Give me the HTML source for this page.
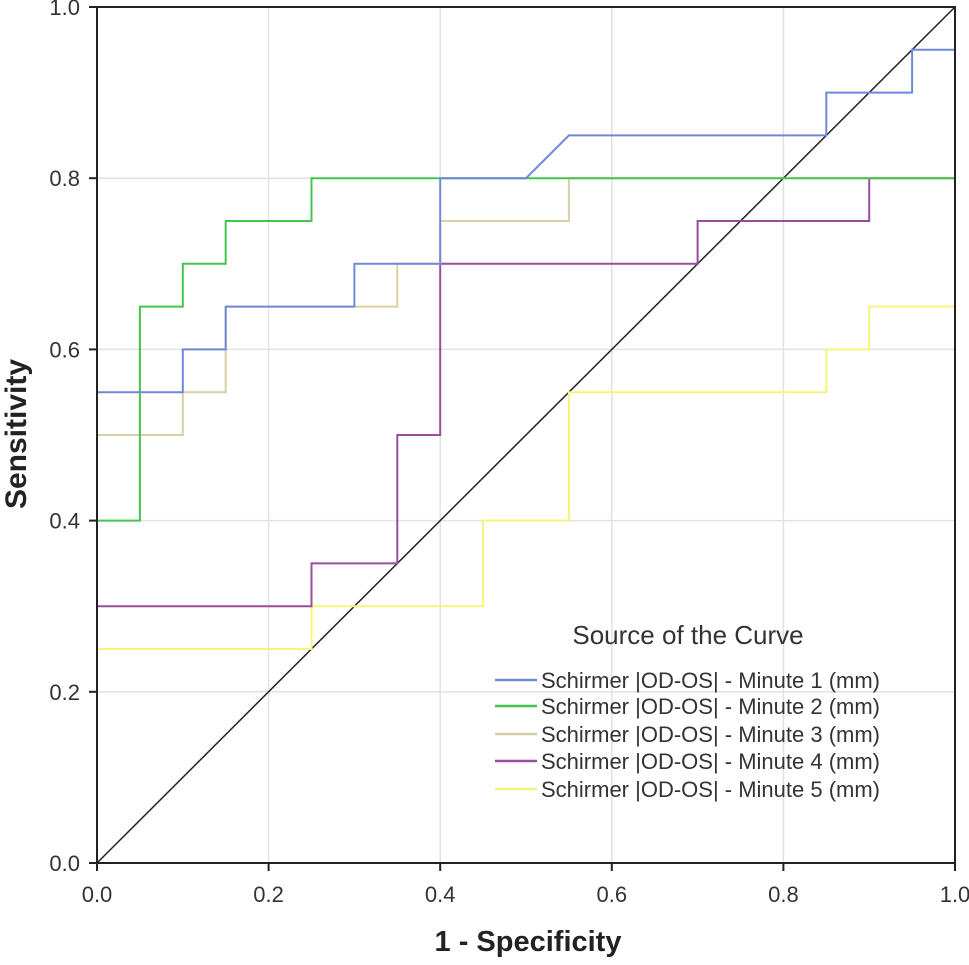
<!DOCTYPE html>
<html><head><meta charset="utf-8"><style>
html,body{margin:0;padding:0;background:#fff;}
svg text{font-family:"Liberation Sans",Arial,sans-serif;}
</style></head><body>
<svg id="chart" width="969" height="960" viewBox="0 0 969 960" xmlns="http://www.w3.org/2000/svg">
<g id="grid"></g>
<g id="curves"></g>
<g id="axes"></g>
<g id="legend"></g>
</svg>
<script>
const xTicks=[0,0.2,0.4,0.6,0.8,1.0];
const yTicks=[0,0.2,0.4,0.6,0.8,1.0];
const seriesNames=["Schirmer |OD-OS| - Minute 1 (mm)","Schirmer |OD-OS| - Minute 2 (mm)","Schirmer |OD-OS| - Minute 3 (mm)","Schirmer |OD-OS| - Minute 4 (mm)","Schirmer |OD-OS| - Minute 5 (mm)"];
const seriesColors=["#7088d8","#44c44c","#d6d0a4","#9a4c9e","#f6f47a"];
const m1x=[0,0,0.1,0.1,0.15,0.15,0.3,0.3,0.4,0.4,0.5,0.55,0.85,0.85,0.95,0.95,1,1];
const m1y=[0,0.55,0.55,0.6,0.6,0.65,0.65,0.7,0.7,0.8,0.8,0.85,0.85,0.9,0.9,0.95,0.95,1];
const m2x=[0,0,0.05,0.05,0.1,0.1,0.15,0.15,0.25,0.25,1,1];
const m2y=[0,0.4,0.4,0.65,0.65,0.7,0.7,0.75,0.75,0.8,0.8,1];
const m3x=[0,0,0.1,0.1,0.15,0.15,0.35,0.35,0.4,0.4,0.55,0.55,1,1];
const m3y=[0,0.5,0.5,0.55,0.55,0.65,0.65,0.7,0.7,0.75,0.75,0.8,0.8,1];
const m4x=[0,0,0.25,0.25,0.35,0.35,0.4,0.4,0.7,0.7,0.9,0.9,1,1];
const m4y=[0,0.3,0.3,0.35,0.35,0.5,0.5,0.7,0.7,0.75,0.75,0.8,0.8,1];
const m5x=[0,0,0.25,0.25,0.45,0.45,0.55,0.55,0.85,0.85,0.9,0.9,1,1];
const m5y=[0,0.25,0.25,0.3,0.3,0.4,0.4,0.55,0.55,0.6,0.6,0.65,0.65,1];
const seriesX=[m1x,m2x,m3x,m4x,m5x];
const seriesY=[m1y,m2y,m3y,m4y,m5y];

const X0=97,X1=955,Y0=863,Y1=7;
const sx=v=>X0+(X1-X0)*v;
const sy=v=>Y0-(Y0-Y1)*v;
const NS="http://www.w3.org/2000/svg";
function mk(tag,attrs,parent){const e=document.createElementNS(NS,tag);for(const k in attrs)e.setAttribute(k,attrs[k]);parent.appendChild(e);return e;}
const grid=document.getElementById('grid'),curves=document.getElementById('curves'),axes=document.getElementById('axes'),legend=document.getElementById('legend');

xTicks.forEach(t=>{if(t>0&&t<1){const l=mk('line',{x1:sx(t),x2:sx(t),y1:Y1,y2:Y0,stroke:'#e2e2e2','stroke-width':1.5},grid);

}
const tx=mk('text',{x:sx(t),y:902,'text-anchor':'middle','font-size':22,fill:'#333'},axes);tx.textContent=t.toFixed(1);


const tk=mk('line',{x1:sx(t),x2:sx(t),y1:Y0,y2:Y0+8,stroke:'#222','stroke-width':2},axes);

});
yTicks.forEach(t=>{if(t>0&&t<1){const l=mk('line',{x1:X0,x2:X1,y1:sy(t),y2:sy(t),stroke:'#e2e2e2','stroke-width':1.5},grid);

}
const tx=mk('text',{x:80,y:sy(t)+8,'text-anchor':'end','font-size':22,fill:'#333'},axes);tx.textContent=t.toFixed(1);


const tk=mk('line',{x1:X0-8,x2:X0,y1:sy(t),y2:sy(t),stroke:'#222','stroke-width':2},axes);

});

const ref=mk('line',{x1:sx(0),y1:sy(0),x2:sx(1),y2:sy(1),stroke:'#222','stroke-width':1.5},curves);



for(let s=4;s>=0;s--){
 const pts=seriesX[s].map((x,i)=>sx(x)+','+sy(seriesY[s][i])).join(' ');
 const p=mk('polyline',{points:pts,fill:'none',stroke:seriesColors[s],'stroke-width':2},curves);
 
 
}

const frame=mk('rect',{x:X0,y:Y1,width:X1-X0,height:Y0-Y1,fill:'none',stroke:'#222','stroke-width':2},axes);



const xt=mk('text',{x:528,y:951,'text-anchor':'middle','font-size':29,'font-weight':'bold',fill:'#222'},axes);xt.textContent='1 - Specificity';


const yt=mk('text',{x:0,y:0,'text-anchor':'middle','font-size':30,'font-weight':'bold',fill:'#222',transform:'translate(26,434) rotate(-90)'},axes);yt.textContent='Sensitivity';



const lt=mk('text',{x:688,y:644,'text-anchor':'middle','font-size':26,fill:'#333'},legend);lt.textContent='Source of the Curve';


const rowsY=[680,706,734,761,789];
seriesNames.forEach((n,i)=>{
 const g=mk('g',{},legend);
 
 
 mk('line',{x1:495,x2:537,y1:rowsY[i],y2:rowsY[i],stroke:seriesColors[i],'stroke-width':2.5},g);
 const t=mk('text',{x:541,y:rowsY[i]+8,'font-size':22,fill:'#333'},g);t.textContent=n;
});
</script>
</body></html>
